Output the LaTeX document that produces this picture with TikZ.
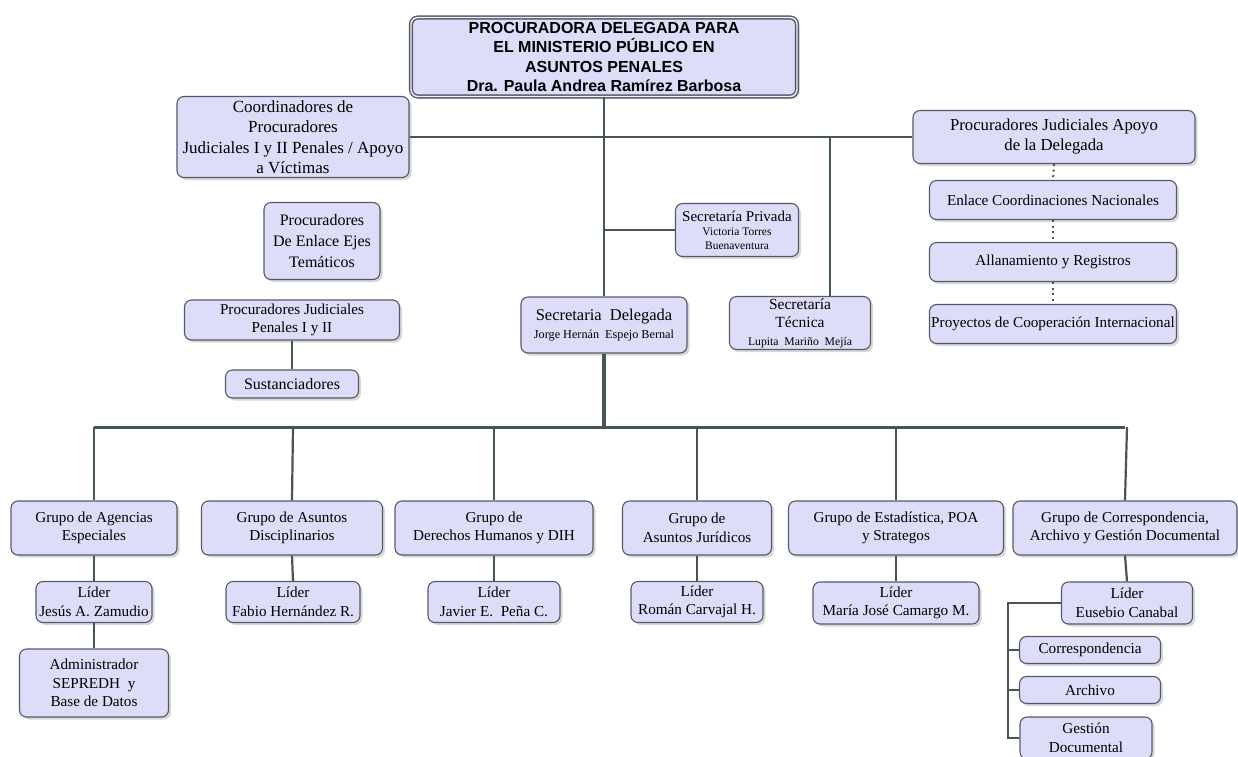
\documentclass[tikz,border=0pt]{standalone}
\usepackage{fontspec}
\setmainfont{Liberation Serif}
\newfontfamily\headfont{Liberation Sans}
\usetikzlibrary{shadows}

\definecolor{boxfill}{RGB}{221,221,250}
\definecolor{boxline}{RGB}{84,90,100}
\definecolor{linkline}{RGB}{70,86,82}

\newcommand{\namesize}{\fontsize{11.5}{13}\selectfont}

\tikzset{
    orgbox/.style = {draw = boxline, fill = boxfill, rounded corners = 7pt, line width = 1.1pt,
        align = center, inner sep = 1pt,
        drop shadow = {shadow xshift = 2.5pt, shadow yshift = -2.5pt, fill = black!30},
        font = \fontsize{15.2}{18.5}\selectfont},
    link/.style = {draw = linkline, line width = 2.2pt},
    dotlink/.style = {draw = linkline, line width = 2pt, dash pattern = on 2pt off 3.5pt},
}

\begin{document}
\begin{tikzpicture}[x = 1pt, y = -1pt]
    \useasboundingbox (0,0) rectangle (1238,756);

    % upper level
    \node [orgbox, line width = 1.4pt, double = boxfill!40, double distance = 1.4pt, minimum width = 386pt, minimum height = 79pt,
        font = \headfont\bfseries\fontsize{16}{19.5}\selectfont] (head) at (604,57)
        {PROCURADORA DELEGADA PARA\\EL MINISTERIO PÚBLICO EN\\ASUNTOS PENALES\\Dra. Paula Andrea Ramírez Barbosa};
    \node [orgbox, minimum width = 232pt, minimum height = 81pt, font = \fontsize{17}{20.5}\selectfont] (coord) at (293,137)
        {Coordinadores de\\Procuradores\\Judiciales I y II Penales / Apoyo\\a Víctimas};
    \node [orgbox, minimum width = 282pt, minimum height = 53pt, font = \fontsize{16.7}{20}\selectfont] (apoyo) at (1054,137)
        {Procuradores Judiciales Apoyo\\de la Delegada};
    \node [orgbox, minimum width = 247pt, minimum height = 39pt] (enlace) at (1053,200) {Enlace Coordinaciones Nacionales};
    \node [orgbox, minimum width = 247pt, minimum height = 39pt] (allan) at (1053,262) {Allanamiento y Registros};
    \node [orgbox, minimum width = 247pt, minimum height = 39pt] (proyec) at (1053,324)
        {Proyectos de Cooperación Internacional};

    \node [orgbox, minimum width = 116pt, minimum height = 77pt, font = \fontsize{16}{21}\selectfont] (ejes) at (322,241)
        {Procuradores\\De Enlace Ejes\\Temáticos};
    \node [orgbox, minimum width = 215pt, minimum height = 40pt] (penal) at (292,320) {Procuradores Judiciales\\Penales I y II};
    \node [orgbox, minimum width = 133pt, minimum height = 28pt, font = \fontsize{16}{18}\selectfont] (sust) at (292,384) {Sustanciadores};

    \node [orgbox, minimum width = 123pt, minimum height = 53pt, font = \fontsize{15}{14}\selectfont] (priv) at (737,230)
        {Secretaría Privada\\\namesize Victoria Torres\\\namesize Buenaventura};
    \node [orgbox, minimum width = 166pt, minimum height = 56pt] (deleg) at (604,325)
        {\fontsize{16.5}{20}\selectfont Secretaria~ Delegada\\\fontsize{12.2}{15}\selectfont Jorge Hernán~ Espejo Bernal};
    \node [orgbox, minimum width = 141pt, minimum height = 53pt, font = \fontsize{15.5}{18}\selectfont] (tec) at (800,323)
        {Secretaría\\Técnica\\\fontsize{11.7}{14}\selectfont Lupita~ Mariño~ Mejía};

    \draw [link] (coord.east) -- (apoyo.west);
    \draw [link] (head.south) -- (deleg.north);
    \draw [link] (priv.west) -- (priv.west -| head.south);
    \coordinate (jt) at (830,137);
    \draw [link] (jt) -- (jt |- tec.north);
    \draw [link] (penal.south) -- (sust.north);
    \draw [dotlink] (apoyo.south) -- (enlace.north);
    \draw [dotlink] (enlace.south) -- (allan.north);
    \draw [dotlink] (allan.south) -- (proyec.north);

    % groups
    \node [orgbox, minimum width = 166pt, minimum height = 54pt] (g1) at (94,528) {Grupo de Agencias\\Especiales};
    \node [orgbox, minimum width = 181pt, minimum height = 54pt] (g2) at (292,528) {Grupo de Asuntos\\Disciplinarios};
    \node [orgbox, minimum width = 198pt, minimum height = 54pt] (g3) at (494,528) {Grupo de\\Derechos Humanos y DIH};
    \node [orgbox, minimum width = 149pt, minimum height = 54pt] (g4) at (697,528) {Grupo de\\Asuntos Jurídicos};
    \node [orgbox, minimum width = 215pt, minimum height = 54pt] (g5) at (896,528) {Grupo de Estadística, POA\\y Strategos};
    \node [orgbox, minimum width = 224pt, minimum height = 54pt] (g6) at (1125,528) {Grupo de Correspondencia,\\Archivo y Gestión Documental};

    \node [orgbox, minimum width = 116pt, minimum height = 41pt] (l1) at (94,602) {Líder\\Jesús A. Zamudio};
    \node [orgbox, minimum width = 134pt, minimum height = 41pt] (l2) at (293,602) {Líder\\Fabio Hernández R.};
    \node [orgbox, minimum width = 132pt, minimum height = 41pt] (l3) at (494,602) {Líder\\Javier E.~ Peña C.};
    \node [orgbox, minimum width = 132pt, minimum height = 41pt] (l4) at (697,602) {Líder\\Román Carvajal H.};
    \node [orgbox, minimum width = 166pt, minimum height = 42pt] (l5) at (896,603) {Líder\\María José Camargo M.};
    \node [orgbox, minimum width = 131pt, minimum height = 42pt] (l6) at (1127,603) {Líder\\Eusebio Canabal};

    \node [orgbox, minimum width = 149pt, minimum height = 68pt] (adm) at (94,683) {Administrador\\SEPREDH~ y\\Base de Datos};
    \node [orgbox, minimum width = 141pt, minimum height = 27pt] (corr) at (1090,650) {Correspondencia};
    \node [orgbox, minimum width = 141pt, minimum height = 27pt] (arch) at (1090,690) {Archivo};
    \node [orgbox, minimum width = 132pt, minimum height = 42pt] (gest) at (1086,738) {Gestión\\Documental};

    \coordinate (gbar) at (604,427);
    \draw [link, line width = 3.5pt] (deleg.south) -- (gbar);
    \draw [link, line width = 3pt] (g1.north |- gbar) -- (g6.north |- gbar);
    \foreach \i in {1,...,6} {
        \draw [link] (l\i.north |- gbar) -- (g\i.north);
        \draw [link] (g\i.south) -- (l\i.north);
    }
    \draw [link] (l1.south) -- (adm.north);
    \coordinate (br) at (1008,603);
    \draw [link] (l6.west) -- (br) |- (gest.west);
    \draw [link] (corr.west) -- (corr.west -| br);
    \draw [link] (arch.west) -- (arch.west -| br);
\end{tikzpicture}
\end{document}
